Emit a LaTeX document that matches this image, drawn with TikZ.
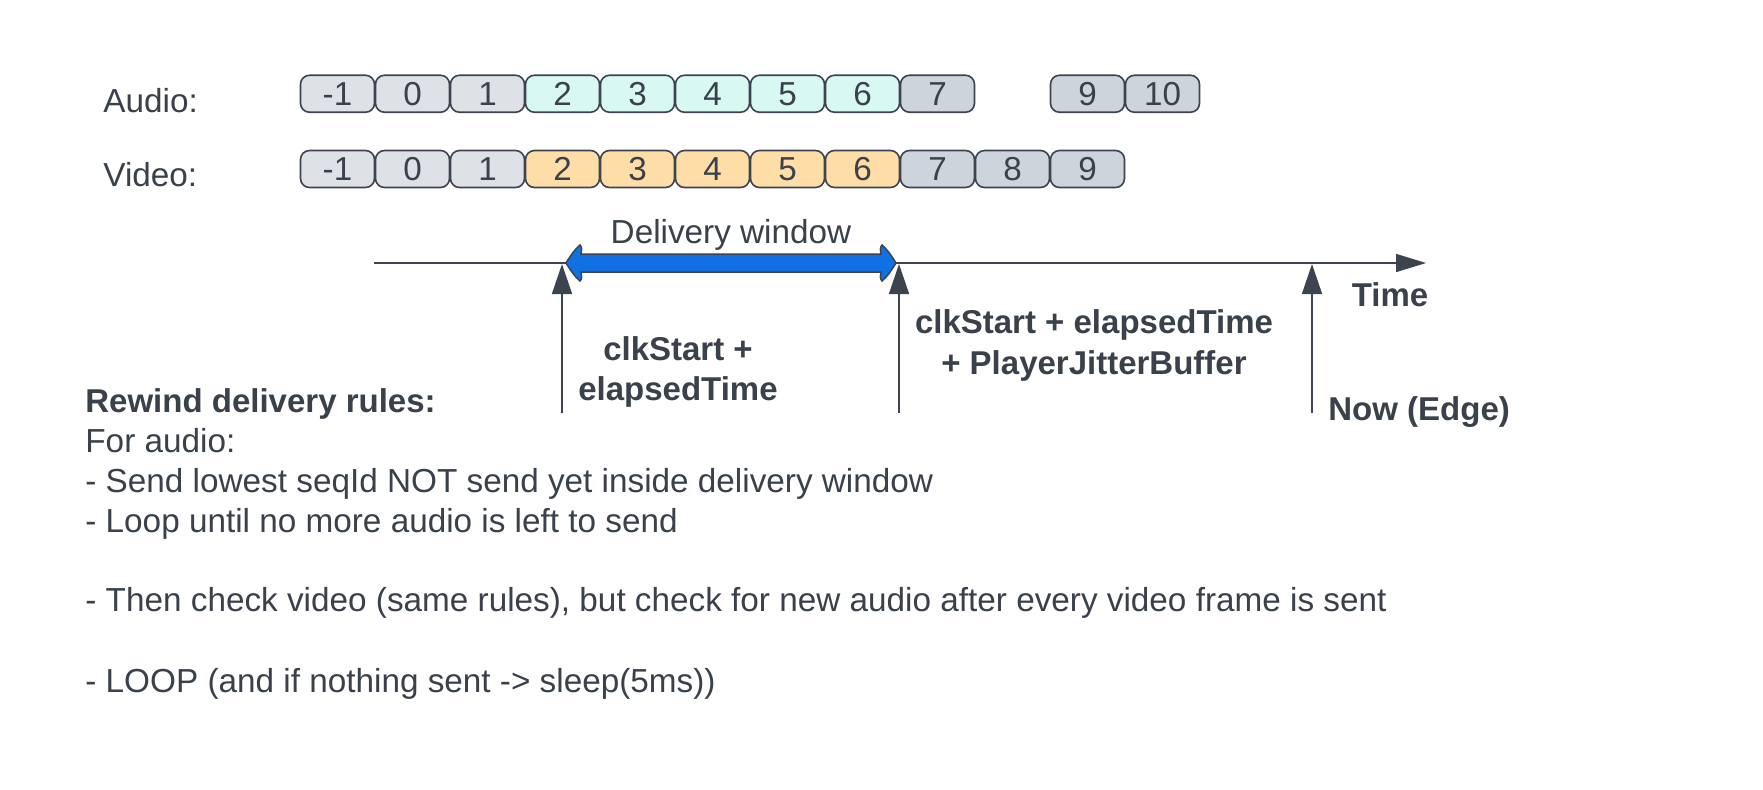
\documentclass[tikz,border=0pt]{standalone}
\usepackage{fontspec}
\setmainfont{Liberation Sans}
\usetikzlibrary{arrows.meta}
\definecolor{textc}{HTML}{3A414A}
\definecolor{edgec}{HTML}{3D4450}
\definecolor{gA}{HTML}{DEE1E6}
\definecolor{gB}{HTML}{CED4DB}
\definecolor{mint}{HTML}{D8F8F2}
\definecolor{orng}{HTML}{FFDDA6}
\definecolor{bluec}{HTML}{1071E5}
\tikzset{
  cell/.style={draw=edgec, line width=0.8pt, rounded corners=4.5pt, minimum width=37pt, minimum height=18.5pt, inner sep=0pt, text=textc, font=\fontsize{16.6}{20}\selectfont},
  lab/.style={text=textc, inner sep=0pt, font=\fontsize{16.65}{20}\selectfont},
  blab/.style={text=textc, inner sep=0pt, font=\fontsize{16.5}{20}\selectfont\bfseries},
  axis/.style={draw=edgec, line width=0.75pt},
  marker/.style={draw=edgec, line width=0.75pt, -{Triangle[length=15pt,width=10pt]}},
}
\begin{document}
\begin{tikzpicture}[x=0.5pt,y=-0.5pt]
\useasboundingbox[fill=white] (0,0) rectangle (1763,789);

% row labels
\node[lab, anchor=base west] (alab) at (103,112) {Audio:};
\node[lab, anchor=base west] (vlab) at (103,186) {Video:};

% audio cells
\foreach \i/\l/\c in {0/-1/gA,1/0/gA,2/1/gA,3/2/mint,4/3/mint,5/4/mint,6/5/mint,7/6/mint,8/7/gB,10/9/gB,11/10/gB}
  \node[cell, fill=\c] (a\i) at ({337.5+75*\i},93.75) {\l};
% video cells
\foreach \i/\l/\c in {0/-1/gA,1/0/gA,2/1/gA,3/2/orng,4/3/orng,5/4/orng,6/5/orng,7/6/orng,8/7/gB,9/8/gB,10/9/gB}
  \node[cell, fill=\c] (v\i) at ({337.5+75*\i},169) {\l};

% timeline
\coordinate (t0) at (374,263);
\coordinate (t1) at (1426,263);
\draw[axis, -{Triangle[length=15pt,width=9pt]}] (t0) -- (t1);
\node[blab, anchor=base] (time) at (1390,306) {Time};

% delivery window arrow
\draw[draw=edgec, line width=0.75pt, fill=bluec]
 (566,263) .. controls (571,255) and (575,249) .. (580,245)
 .. controls (582,247) and (582,251) .. (581,254) -- (881,254)
 .. controls (880,251) and (880,247) .. (882,245)
 .. controls (887,249) and (891,255) .. (896,263)
 .. controls (891,271) and (887,277) .. (882,281)
 .. controls (880,279) and (880,275) .. (881,272) -- (581,272)
 .. controls (582,275) and (582,279) .. (580,281)
 .. controls (575,277) and (571,271) .. (566,263) -- cycle;
\node[lab, anchor=base] (dw) at (731,243) {Delivery window};

% vertical markers
\coordinate (m1b) at (562,413); \coordinate (m1t) at (562,264);
\coordinate (m2b) at (899,413); \coordinate (m2t) at (899,264);
\coordinate (m3b) at (1312,413); \coordinate (m3t) at (1312,264);
\draw[marker] (m1b) -- (m1t);
\draw[marker] (m2b) -- (m2t);
\draw[marker] (m3b) -- (m3t);

\node[blab, anchor=base] (c1a) at (678,360) {clkStart +};
\node[blab, anchor=base] (c1b) at (678,400) {elapsedTime};
\node[blab, anchor=base] (c2a) at (1094,333) {clkStart + elapsedTime};
\node[blab, anchor=base] (c2b) at (1094,374) {+ PlayerJitterBuffer};
\node[blab, anchor=base west] (now) at (1328,420) {Now (Edge)};

% rules
\node[blab, anchor=base west] (r1) at (85,412) {Rewind delivery rules:};
\node[lab, anchor=base west] (r2) at (85,452) {For audio:};
\node[lab, anchor=base west] (r3) at (85,492) {- Send lowest seqId NOT send yet inside delivery window};
\node[lab, anchor=base west] (r4) at (85,532) {- Loop until no more audio is left to send};
\node[lab, anchor=base west] (r5) at (85,611) {- Then check video (same rules), but check for new audio after every video frame is sent};
\node[lab, anchor=base west] (r6) at (85,692) {- LOOP (and if nothing sent -> sleep(5ms))};
\end{tikzpicture}
\end{document}
